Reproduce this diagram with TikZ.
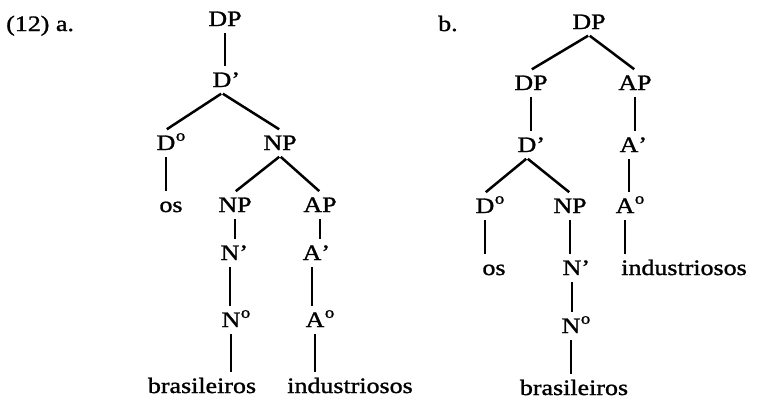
\documentclass[tikz,border=0pt]{standalone}
\usepackage{fontspec}
\setmainfont{Liberation Serif}[FakeStretch=1.18,FakeBold=1.3]
% raised small "o" of the zero-bar labels (D°, N°, A°)
\newcommand{\barzero}{\rlap{\kern0.5pt\raisebox{0.42em}{\fontsize{16}{16}\selectfont o}}}
\newcommand{\barprime}{\rlap{'}}
\begin{document}
\begin{tikzpicture}[x=1pt,y=-1pt,
  lab/.style={anchor=base,inner xsep=1pt,inner ysep=6pt,
    text height=14pt,text depth=0pt,
    font=\fontsize{22}{26}\selectfont},
  branch/.style={line width=2.5pt,shorten <=1pt,shorten >=1pt}]
\useasboundingbox (0,0) rectangle (768,399);

% ---- (12) a. ----
\node[lab,anchor=base west] (numa) at (5,31) {(12) a.};
\node[lab] (aDP)  at (225,26)  {DP};
\node[lab] (aD1)  at (222,87)  {D\barprime};
\node[lab] (aD0)  at (166,150) {D\barzero};
\node[lab] (aNP1) at (280,150) {NP};
\node[lab] (aos)  at (171,212) {os};
\node[lab] (aNP2) at (235,212) {NP};
\node[lab] (aAP)  at (320,212) {AP};
\node[lab] (aN1)  at (230,260) {N\barprime};
\node[lab] (aA1)  at (312,260) {A\barprime};
\node[lab] (aN0)  at (231,327) {N\barzero};
\node[lab] (aA0)  at (315,327) {A\barzero};
\node[lab] (abra) at (202,393) {brasileiros};
\node[lab] (aind) at (350,393) {industriosos};

\draw[branch] (aDP.south) -- (aDP.south |- aD1.north);
\draw[branch] (aD1.south) -- (aD0.north);
\draw[branch] (aD1.south) -- (aNP1.north);
\draw[branch] (aD0.south) -- (aD0.south |- aos.north);
\draw[branch] (aNP1.south) -- (aNP2.north);
\draw[branch] (aNP1.south) -- (aAP.north);
\draw[branch] (aNP2.south) -- (aNP2.south |- aN1.north);
\draw[branch] (aN1.south) -- (aN1.south |- aN0.north);
\draw[branch] (aN0.south) -- (aN0.south |- abra.north);
\draw[branch] (aAP.south) -- (aAP.south |- aA1.north);
\draw[branch] (aA1.south) -- (aA1.south |- aA0.north);
\draw[branch] (aA0.south) -- (aA0.south |- aind.north);

% ---- b. ----
\node[lab,anchor=base west] (numb) at (437,31) {b.};
\node[lab] (bDP)  at (589,29)  {DP};
\node[lab] (bDP2) at (531,90)  {DP};
\node[lab] (bAP)  at (635,90)  {AP};
\node[lab] (bD1)  at (527,152) {D\barprime};
\node[lab] (bA1)  at (629,152) {A\barprime};
\node[lab] (bD0)  at (485,213) {D\barzero};
\node[lab] (bNP)  at (570,213) {NP};
\node[lab] (bA0)  at (625,213) {A\barzero};
\node[lab] (bos)  at (494,275) {os};
\node[lab] (bN1)  at (572,275) {N\barprime};
\node[lab] (bind) at (684,275) {industriosos};
\node[lab] (bN0)  at (571,333) {N\barzero};
\node[lab] (bbra) at (574,395) {brasileiros};

\draw[branch] (bDP.south) -- (bDP2.north);
\draw[branch] (bDP.south) -- (bAP.north);
\draw[branch] (bDP2.south) -- (bDP2.south |- bD1.north);
\draw[branch] (bAP.south) -- (bAP.south |- bA1.north);
\draw[branch] (bD1.south) -- (bD0.north);
\draw[branch] (bD1.south) -- (bNP.north);
\draw[branch] (bA1.south) -- (bA1.south |- bA0.north);
\draw[branch] (bD0.south) -- (bD0.south |- bos.north);
\draw[branch] (bNP.south) -- (bNP.south |- bN1.north);
\draw[branch] (bA0.south) -- (bA0.south |- bind.north);
\draw[branch] (bN1.south) -- (bN1.south |- bN0.north);
\draw[branch] (bN0.south) -- (bN0.south |- bbra.north);
\end{tikzpicture}
\end{document}
